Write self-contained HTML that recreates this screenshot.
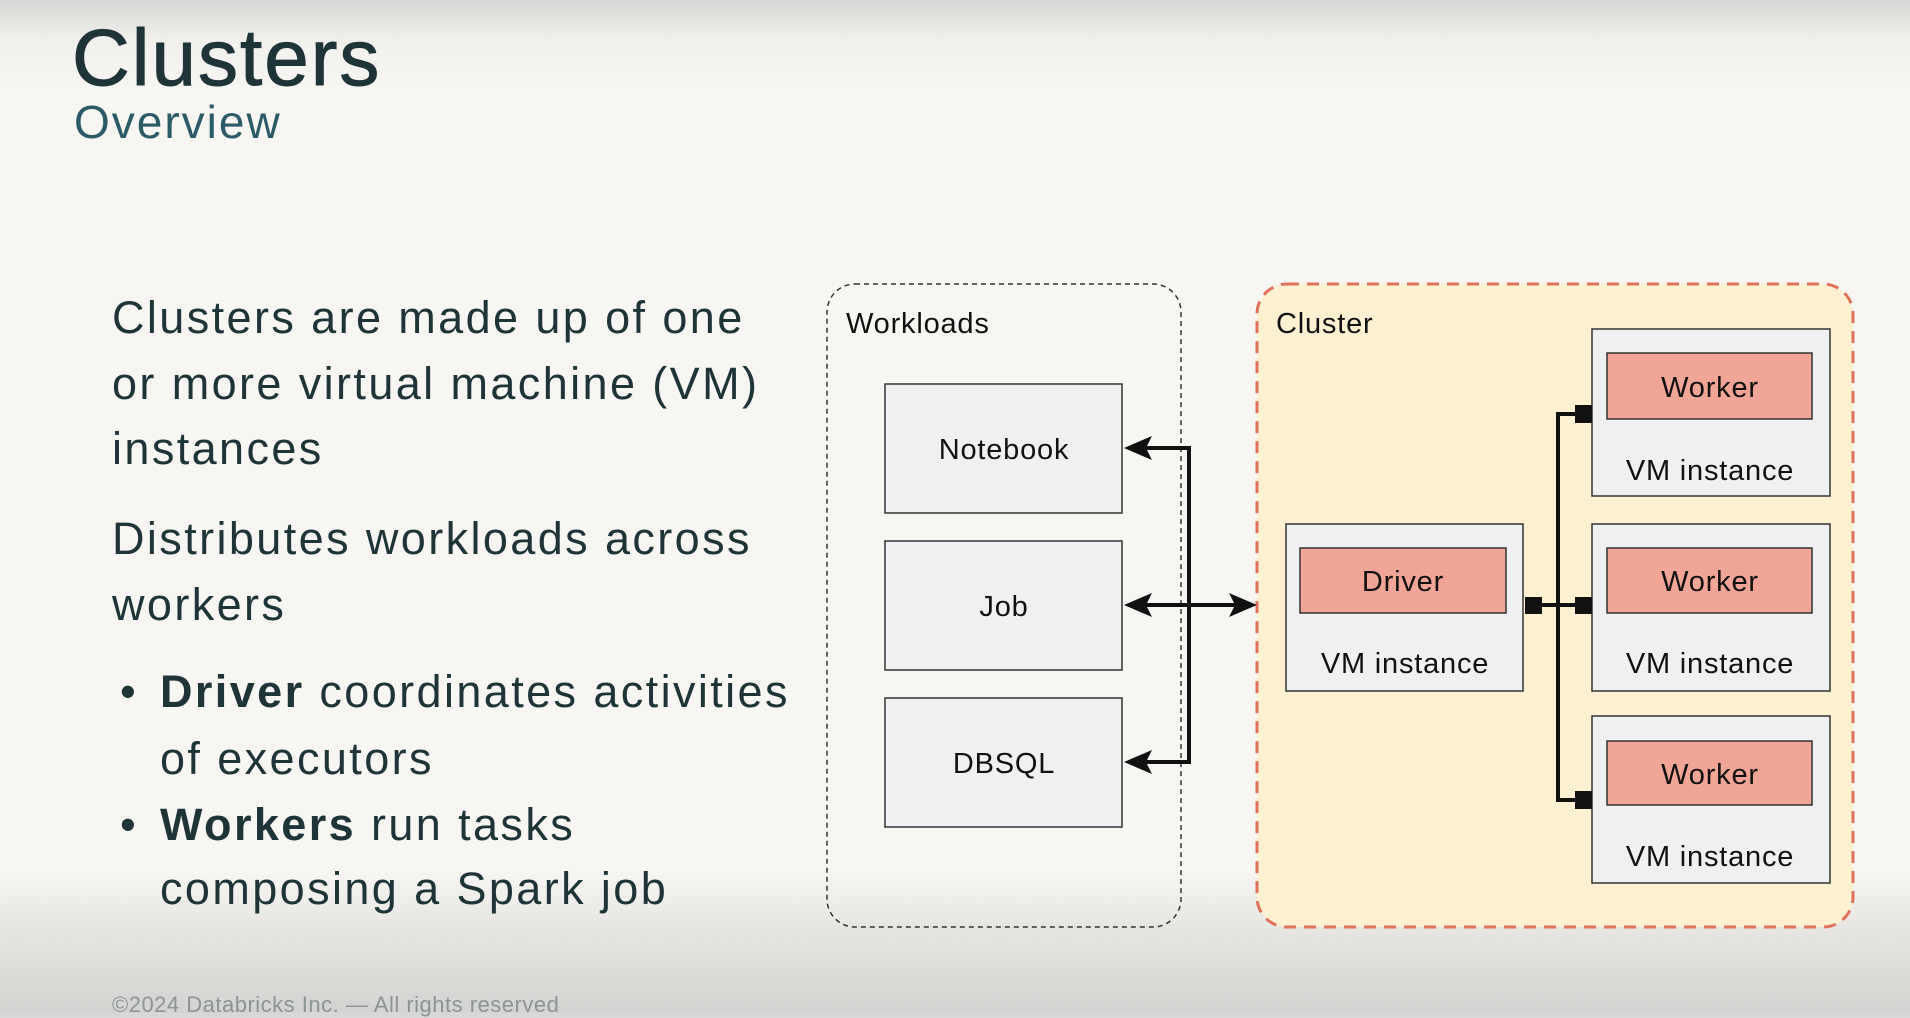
<!DOCTYPE html>
<html><head><meta charset="utf-8"><style>
html,body{margin:0;padding:0}
body{width:1910px;height:1012px;overflow:hidden;position:relative;font-family:"Liberation Sans",sans-serif;
background:linear-gradient(to bottom,#d6d6d4 0px,#f1f0ed 40px,#f7f6f3 90px,#f7f6f3 870px,#e6e5e2 930px,#d3d3d1 1012px);}
.t{position:absolute;white-space:nowrap;color:#1e3436}
#h1{left:72px;top:12px;font-size:80px;letter-spacing:2px;-webkit-text-stroke:1px #1e3436}
#h2{left:74px;top:95px;font-size:46px;color:#2a5b66;letter-spacing:2px}
.b{font-size:45px;letter-spacing:2.4px;color:#1e3436}
.f{left:112px;top:992px;font-size:22px;color:#8c9496;letter-spacing:0.5px}
</style></head><body>
<div class="t" id="h1">Clusters</div>
<div class="t" id="h2">Overview</div>
<div class="t b" style="left:112px;top:292px">Clusters are made up of one</div>
<div class="t b" style="left:112px;top:358px">or more virtual machine (VM)</div>
<div class="t b" style="left:112px;top:423px">instances</div>
<div class="t b" style="left:112px;top:513px">Distributes workloads across</div>
<div class="t b" style="left:112px;top:579px">workers</div>
<div class="t b" style="left:120px;top:666px">•</div>
<div class="t b" style="left:160px;top:666px"><b>Driver</b> coordinates activities</div>
<div class="t b" style="left:160px;top:733px">of executors</div>
<div class="t b" style="left:120px;top:799px">•</div>
<div class="t b" style="left:160px;top:799px"><b>Workers</b> run tasks</div>
<div class="t b" style="left:160px;top:863px">composing a Spark job</div>
<div class="t f">©2024 Databricks Inc. — All rights reserved</div>
<svg width="1910" height="1012" style="position:absolute;left:0;top:0" font-family="Liberation Sans, sans-serif" font-size="29" fill="#111" letter-spacing="0.8">
<rect x="827" y="284" width="354" height="643" rx="28" fill="none" stroke="#333" stroke-width="1.5" stroke-dasharray="5,4"/>
<rect x="1257" y="284" width="596" height="643" rx="30" fill="#fdf1d2" stroke="#e0715a" stroke-width="3" stroke-dasharray="12,8"/>
<text x="846" y="333">Workloads</text>
<text x="1276" y="333">Cluster</text>
<g fill="#eff0f2" stroke="#333" stroke-width="1.5">
<rect x="885" y="384" width="237" height="129"/>
<rect x="885" y="541" width="237" height="129"/>
<rect x="885" y="698" width="237" height="129"/>
<rect x="1286" y="524" width="237" height="167"/>
<rect x="1592" y="329" width="238" height="167"/>
<rect x="1592" y="524" width="238" height="167"/>
<rect x="1592" y="716" width="238" height="167"/>
</g>
<g fill="#f1a596" stroke="#333" stroke-width="1.5">
<rect x="1300" y="548" width="206" height="65"/>
<rect x="1607" y="353" width="205" height="66"/>
<rect x="1607" y="548" width="205" height="65"/>
<rect x="1607" y="741" width="205" height="64"/>
</g>
<g text-anchor="middle">
<text x="1004" y="459">Notebook</text>
<text x="1004" y="616">Job</text>
<text x="1004" y="773">DBSQL</text>
<text x="1403" y="591">Driver</text>
<text x="1405" y="673">VM instance</text>
<text x="1710" y="397">Worker</text>
<text x="1710" y="480">VM instance</text>
<text x="1710" y="591">Worker</text>
<text x="1710" y="673">VM instance</text>
<text x="1710" y="784">Worker</text>
<text x="1710" y="866">VM instance</text>
</g>
<g stroke="#111" stroke-width="4" fill="none">
<polyline points="1140,448 1189,448 1189,762 1140,762"/>
<line x1="1140" y1="605" x2="1238" y2="605"/>
<polyline points="1575,414 1558,414 1558,800 1575,800"/>
<line x1="1542" y1="605" x2="1575" y2="605"/>
</g>
<g fill="#111">
<polygon points="1124,448 1152,436 1146,448 1152,460"/>
<polygon points="1124,762 1152,750 1146,762 1152,774"/>
<polygon points="1124,605 1152,593 1146,605 1152,617"/>
<polygon points="1257,605 1229,593 1235,605 1229,617"/>
<rect x="1525" y="597" width="17" height="17"/>
<rect x="1575" y="405" width="17" height="18"/>
<rect x="1575" y="597" width="17" height="17"/>
<rect x="1575" y="791" width="17" height="18"/>
</g>
</svg>
</body></html>
